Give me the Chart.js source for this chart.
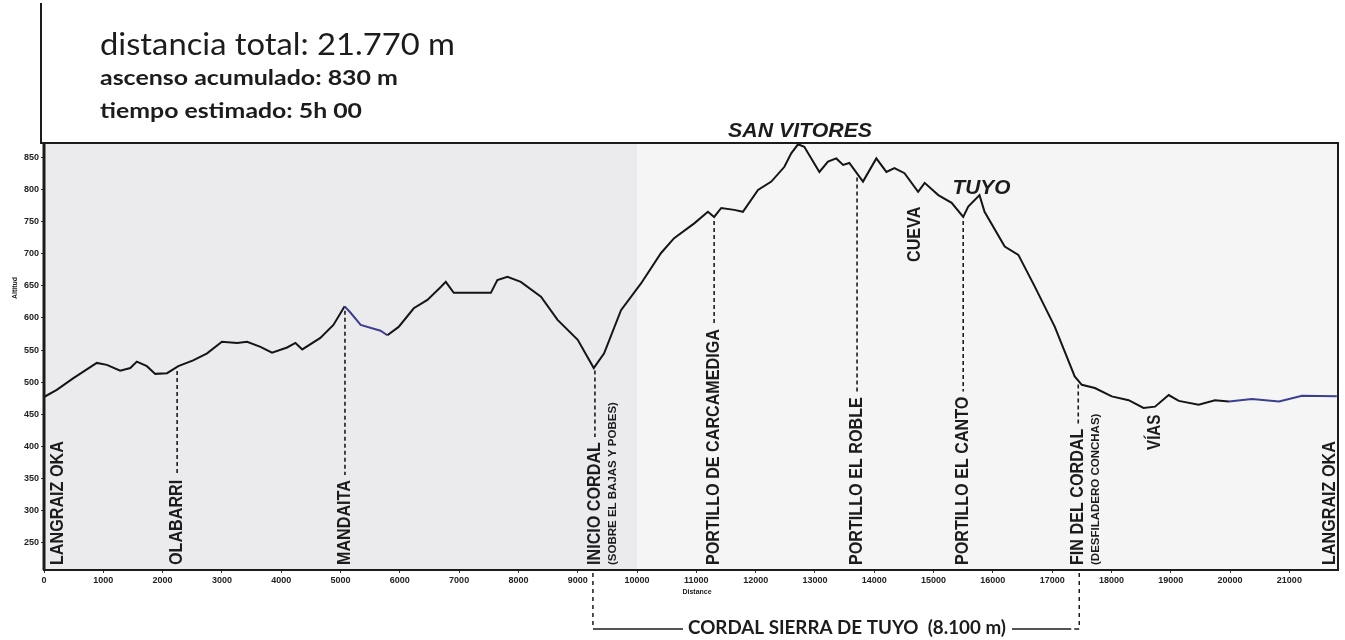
<!DOCTYPE html>
<html>
<head>
<meta charset="utf-8">
<title>Perfil Sierra de Tuyo</title>
<script src="https://cdn.jsdelivr.net/npm/chart.js@4.4.1/dist/chart.umd.min.js"></script>
<style>
  html, body { margin: 0; padding: 0; background: #fff; }
  canvas { display: block; }
</style>
</head>
<body>
<canvas id="profileChart" width="1345" height="640"></canvas>
<script>
// profile: distance (m) / altitude (m)
const distances = [0, 215, 490, 890, 1060, 1285, 1455, 1565, 1735, 1875, 2075, 2265, 2515, 2750,
  3000, 3255, 3425, 3650, 3845, 4100, 4240, 4355, 4660, 4880, 5070, 5170, 5340, 5675, 5790,
  5980, 6235, 6465, 6690, 6775, 6910, 7250, 7535, 7645, 7815, 8040, 8380, 8660, 9000, 9270,
  9445, 9730, 10070, 10405, 10625, 10965, 11195, 11300, 11420, 11640, 11785, 12040, 12265,
  12485, 12600, 12715, 12820, 13075, 13220, 13360, 13475, 13580, 13810, 14035, 14205, 14340,
  14510, 14740, 14850, 15080, 15305, 15500, 15585, 15775, 15860, 16200, 16430, 16705, 17045,
  17380, 17500, 17720, 18005, 18290, 18540, 18735, 18965, 19135, 19470, 19745, 19980, 20370,
  20825, 21215, 21800];
const elevations = [477, 488, 506, 530, 527, 518, 522, 532, 525, 513, 514, 525, 534, 545,
  563, 561, 563, 555, 546, 554, 561, 551, 569, 589, 618, 608, 589, 580, 573,
  586, 615, 628, 648, 656, 639, 639, 639, 659, 664, 656, 633, 597, 566, 522,
  545, 612, 654, 701, 724, 747, 765, 757, 771, 768, 765, 799, 812,
  835, 856, 870, 866, 827, 843, 848, 838, 841, 812, 848, 827, 833,
  825, 796, 810, 791, 779, 757, 773, 791, 765, 711, 698, 649, 586,
  509, 496, 491, 478, 472, 460, 462, 480, 471, 465, 472, 470, 474,
  470, 479, 478];

const xTicks = [0, 1000, 2000, 3000, 4000, 5000, 6000, 7000, 8000, 9000, 10000, 11000,
  12000, 13000, 14000, 15000, 16000, 17000, 18000, 19000, 20000, 21000];
const yTicks = [250, 300, 350, 400, 450, 500, 550, 600, 650, 700, 750, 800, 850];

const waypointNames = ['LANGRAIZ OKA', 'OLABARRI', 'MANDAITA', 'INICIO CORDAL', 'PORTILLO DE CARCAMEDIGA',
  'PORTILLO EL ROBLE', 'PORTILLO EL CANTO', 'FIN DEL CORDAL', 'LANGRAIZ OKA'];
const waypointNotes = ['', '', '', '(SOBRE EL BAJAS Y POBES)', '', '', '', '(DESFILADERO CONCHAS)', ''];
const waypointDist = [240, 2245, 5075, 9290, 11300, 13710, 15500, 17440, 21680];

const peakNames = ['SAN VITORES', 'TUYO'];
const peakDist = [12715, 15775];
const spotNames = ['CUEVA', 'VÍAS'];
const spotDist = [14690, 18735];

const summaryLines = ['distancia total: 21.770 m', 'ascenso acumulado: 830 m', 'tiempo estimado: 5h 00'];
const ridgeLabel = 'CORDAL SIERRA DE TUYO  (8.100 m)';

const LABEL_FONT = "'Liberation Sans', Arial, sans-serif";
const HEAD_FONT = "Lato, 'Open Sans', sans-serif";

function elevAt(d) {
  for (let i = 1; i < distances.length; i++) {
    if (d <= distances[i]) {
      const t = (d - distances[i - 1]) / (distances[i] - distances[i - 1]);
      return elevations[i - 1] + t * (elevations[i] - elevations[i - 1]);
    }
  }
  return elevations[elevations.length - 1];
}

// draw text squeezed/stretched to a given width
function fitText(ctx, text, x, y, font, width) {
  ctx.save();
  ctx.font = font;
  const w = ctx.measureText(text).width;
  ctx.translate(x, y);
  ctx.scale(width / w, 1);
  ctx.textAlign = 'left';
  ctx.fillText(text, 0, 0);
  ctx.restore();
}

// vertical text, reading bottom to top, returns drawn length
function vText(ctx, text, x, yBottom, font, squeeze) {
  ctx.save();
  ctx.translate(x, yBottom);
  ctx.rotate(-Math.PI / 2);
  ctx.scale(squeeze, 1);
  ctx.font = font;
  ctx.textAlign = 'left';
  ctx.textBaseline = 'middle';
  ctx.fillText(text, 0, 0);
  const w = ctx.measureText(text).width * squeeze;
  ctx.restore();
  return w;
}

const overlay = {
  id: 'overlay',
  beforeDraw(chart) {
    const { ctx, chartArea: a, width, height } = chart;
    ctx.save();
    ctx.fillStyle = '#ffffff';
    ctx.fillRect(0, 0, width, height);
    const split = chart.scales.x.getPixelForValue(10000);
    ctx.fillStyle = '#ebebed';
    ctx.fillRect(a.left, a.top, split - a.left, a.bottom - a.top);
    ctx.fillStyle = '#f5f5f5';
    ctx.fillRect(split, a.top, a.right - split, a.bottom - a.top);
    ctx.restore();
  },
  afterDraw(chart) {
    const { ctx, chartArea: a } = chart;
    const xs = chart.scales.x, ys = chart.scales.y;
    ctx.save();
    ctx.fillStyle = '#1c1c1c';
    ctx.strokeStyle = '#1c1c1c';

    // frame
    ctx.lineWidth = 2;
    ctx.strokeRect(a.left, a.top, a.right - a.left, a.bottom - a.top);
    ctx.lineWidth = 3;
    ctx.beginPath();
    ctx.moveTo(a.left, a.top);
    ctx.lineTo(a.left, a.bottom);
    ctx.stroke();
    ctx.lineWidth = 2;
    ctx.beginPath();
    ctx.moveTo(a.left - 3, 3);
    ctx.lineTo(a.left - 3, a.top);
    ctx.lineTo(a.left, a.top);
    ctx.stroke();

    // header
    fitText(ctx, summaryLines[0], 100, 55, '31px ' + HEAD_FONT, 355);
    fitText(ctx, summaryLines[1], 100, 85, 'bold 20px ' + HEAD_FONT, 298);
    fitText(ctx, summaryLines[2], 100, 118, 'bold 20px ' + HEAD_FONT, 262);

    // axis titles
    ctx.font = 'bold 7px ' + LABEL_FONT;
    ctx.textAlign = 'center';
    ctx.textBaseline = 'middle';
    ctx.fillText('Distance', (a.left + a.right) / 2 + 6, a.bottom + 22);
    ctx.save();
    ctx.translate(15, 288);
    ctx.rotate(-Math.PI / 2);
    ctx.fillText('Altitud', 0, 0);
    ctx.restore();

    // waypoints
    const textBottom = a.bottom - 5;
    waypointNames.forEach((name, i) => {
      const x = xs.getPixelForValue(waypointDist[i]);
      const len = vText(ctx, name, x, textBottom, 'bold 19px ' + LABEL_FONT, 0.85);
      if (waypointNotes[i]) {
        vText(ctx, waypointNotes[i], x + 18, textBottom, 'bold 11.5px ' + LABEL_FONT, 1);
      }
      if (i > 0 && i < waypointNames.length - 1) {
        const yTop = ys.getPixelForValue(elevAt(waypointDist[i])) + 4;
        ctx.save();
        ctx.lineWidth = 1.6;
        ctx.setLineDash([4, 3]);
        ctx.beginPath();
        ctx.moveTo(x, yTop);
        ctx.lineTo(x, textBottom - len - 5);
        ctx.stroke();
        ctx.restore();
      }
    });

    // other spots along the ridge
    vText(ctx, spotNames[0], xs.getPixelForValue(spotDist[0]), 262, 'bold 19px ' + LABEL_FONT, 0.85);
    vText(ctx, spotNames[1], xs.getPixelForValue(spotDist[1]), 450, 'bold 19px ' + LABEL_FONT, 0.8);

    // summit names
    const sv = xs.getPixelForValue(peakDist[0]);
    fitText(ctx, peakNames[0], sv - 70, 131, 'italic bold 21px ' + LABEL_FONT, 144);
    const ty = xs.getPixelForValue(peakDist[1]);
    fitText(ctx, peakNames[1], ty - 27, 188, 'italic bold 21px ' + LABEL_FONT, 58);

    // ridge bracket under the axis
    const x1 = xs.getPixelForValue(waypointDist[3]) - 2;
    const x2 = xs.getPixelForValue(waypointDist[7]) + 1;
    const yb = 629;
    ctx.save();
    ctx.lineWidth = 1.5;
    ctx.setLineDash([4, 4]);
    ctx.beginPath();
    ctx.moveTo(x1, a.bottom + 3);
    ctx.lineTo(x1, yb);
    ctx.moveTo(x2, a.bottom + 3);
    ctx.lineTo(x2, yb);
    ctx.stroke();
    ctx.setLineDash([]);
    ctx.beginPath();
    ctx.moveTo(x1, yb);
    ctx.lineTo(683, yb);
    ctx.moveTo(1012, yb);
    ctx.lineTo(x2 - 8, yb);
    ctx.moveTo(x2 - 5, yb);
    ctx.lineTo(x2, yb);
    ctx.stroke();
    ctx.restore();
    fitText(ctx, ridgeLabel, 688, 628, 'bold 18px ' + HEAD_FONT, 318);

    ctx.restore();
  }
};

const ctx = document.getElementById('profileChart').getContext('2d');
const profile = distances.map((d, i) => ({ x: d, y: elevations[i] }));

const chart = new Chart(ctx, {
  type: 'line',
  data: {
    datasets: [{
      label: 'Altitud',
      data: profile,
      borderColor: '#151515',
      borderWidth: 2,
      pointRadius: 0,
      tension: 0,
      segment: {
        borderColor: c => {
          const x0 = c.p0.parsed.x;
          if ((x0 >= 5070 && x0 < 5790) || x0 >= 19980) return '#3b3f8f';
          return '#151515';
        }
      }
    }]
  },
  options: {
    responsive: false,
    animation: false,
    devicePixelRatio: 1,
    layout: { padding: { top: 143, right: 7, left: 0, bottom: 0 } },
    plugins: {
      legend: { display: false },
      tooltip: { enabled: false }
    },
    scales: {
      x: {
        type: 'linear',
        min: 0,
        max: 21820,
        afterBuildTicks: axis => { axis.ticks = xTicks.map(v => ({ value: v })); },
        afterFit: axis => { axis.height = 70; },
        border: { display: false },
        grid: { drawOnChartArea: false, tickLength: 3, color: '#333' },
        ticks: {
          autoSkip: false,
          maxRotation: 0,
          padding: 2,
          color: '#222',
          font: { family: LABEL_FONT, size: 9, weight: 'bold' },
          callback: v => String(v)
        }
      },
      y: {
        min: 208,
        max: 872,
        afterBuildTicks: axis => { axis.ticks = yTicks.map(v => ({ value: v })); },
        afterFit: axis => { axis.width = 44; },
        border: { display: false },
        grid: { drawOnChartArea: false, tickLength: 3, color: '#333' },
        ticks: {
          padding: 2,
          color: '#222',
          font: { family: LABEL_FONT, size: 9, weight: 'bold' },
          callback: v => String(v)
        }
      }
    }
  },
  plugins: [overlay]
});
</script>
</body>
</html>
